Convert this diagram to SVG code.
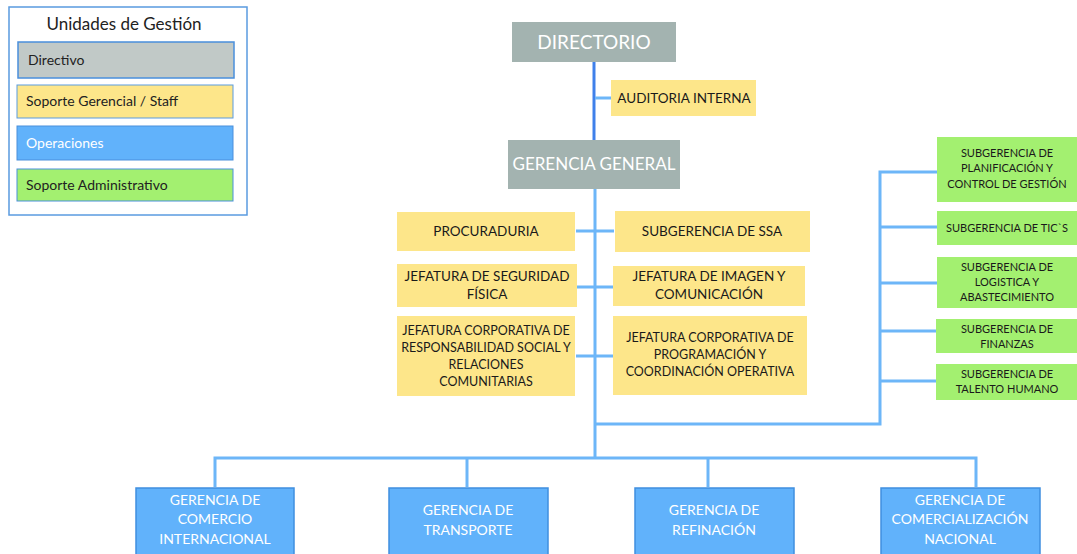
<svg xmlns="http://www.w3.org/2000/svg" width="1077" height="554" viewBox="0 0 1077 554">
<style>
text{font-family:Lato,"Liberation Sans",sans-serif;text-anchor:middle}
.g{fill:#a3b3b0}
.y{fill:#fde68a}
.b{fill:#61b2fb;stroke:#3f8fdf;stroke-width:1.5}
.gr{fill:#a3f070}
.ty{font-size:13.5px;fill:#1a1a1a}
.tg{font-size:11px;fill:#1a1a1a}
.tw{font-size:14px;fill:#fff}
.tt{font-size:19px;fill:#fff}
.ln{stroke:#6db6f8;stroke-width:3;fill:none}
</style>
<g id="legend">
<rect x="9" y="7" width="238" height="208" fill="#fff" stroke="#5a9be0" stroke-width="1.5"/>
<text x="124" y="30" style="font-size:17px;fill:#222">Unidades de Gestión</text>
<rect x="18" y="42" width="216" height="36" fill="#c1c9c7" stroke="#4a8fdc" stroke-width="1.5"/>
<text x="28" y="65" style="font-size:14px;fill:#222;text-anchor:start">Directivo</text>
<rect x="17" y="85" width="216" height="33" fill="#fde68a" stroke="#5a9be0" stroke-width="1"/>
<text x="26" y="106" style="font-size:14px;fill:#222;text-anchor:start">Soporte Gerencial / Staff</text>
<rect x="17" y="126" width="216" height="34" fill="#61b2fb" stroke="#4a8fdc" stroke-width="1"/>
<text x="26" y="148" style="font-size:14px;fill:#fff;text-anchor:start">Operaciones</text>
<rect x="17" y="169" width="216" height="32" fill="#a3f070" stroke="#4a8fdc" stroke-width="1"/>
<text x="26" y="190" style="font-size:14px;fill:#222;text-anchor:start">Soporte Administrativo</text>
</g>
<g id="connectors">
<line x1="594" y1="62" x2="594" y2="140" stroke="#3f80ea" stroke-width="3"/>
<line x1="595" y1="98" x2="611" y2="98" class="ln"/>
<line x1="595" y1="189" x2="595" y2="458" class="ln"/>
<line x1="576" y1="231" x2="614" y2="231" class="ln"/>
<line x1="577" y1="287" x2="613" y2="287" class="ln"/>
<line x1="576" y1="356" x2="613" y2="356" class="ln"/>
<polyline points="595,424 880,424 880,172 937,172" class="ln"/>
<line x1="880" y1="227" x2="937" y2="227" class="ln"/>
<line x1="880" y1="283" x2="937" y2="283" class="ln"/>
<line x1="880" y1="331" x2="937" y2="331" class="ln"/>
<line x1="880" y1="381" x2="937" y2="381" class="ln"/>
<polyline points="215,487 215,458 976,458 976,487" class="ln"/>
<line x1="467" y1="458" x2="467" y2="487" class="ln"/>
<line x1="708" y1="458" x2="708" y2="487" class="ln"/>
</g>
<g id="directorio"><rect x="512" y="22" width="164" height="40" class="g"/><text x="594" y="49" class="tt">DIRECTORIO</text></g>
<g id="auditoria"><rect x="611" y="80" width="145" height="36" class="y"/><text x="684" y="103" class="ty">AUDITORIA INTERNA</text></g>
<g id="gerencia-general"><rect x="508" y="140" width="172" height="49" class="g"/><text x="594" y="170" class="tt" style="font-size:17px">GERENCIA GENERAL</text></g>
<g id="procuraduria"><rect x="397" y="212" width="178" height="39" class="y"/><text x="486" y="236" class="ty">PROCURADURIA</text></g>
<g id="ssa"><rect x="615" y="211" width="195" height="41" class="y"/><text x="712" y="236" class="ty">SUBGERENCIA DE SSA</text></g>
<g id="seguridad"><rect x="397" y="264" width="180" height="43" class="y"/><text x="487" y="281" class="ty">JEFATURA DE SEGURIDAD</text><text x="487" y="299" class="ty">FÍSICA</text></g>
<g id="imagen"><rect x="613" y="266" width="192" height="40" class="y"/><text x="709" y="281" class="ty">JEFATURA DE IMAGEN Y</text><text x="709" y="299" class="ty">COMUNICACIÓN</text></g>
<g id="responsabilidad"><rect x="397" y="316" width="178" height="80" class="y"/><text x="486" y="335" class="ty" style="font-size:12.5px">JEFATURA CORPORATIVA DE</text><text x="486" y="352" class="ty" style="font-size:12.5px">RESPONSABILIDAD SOCIAL Y</text><text x="486" y="369" class="ty" style="font-size:12.5px">RELACIONES</text><text x="486" y="386" class="ty" style="font-size:12.5px">COMUNITARIAS</text></g>
<g id="programacion"><rect x="613" y="316" width="194" height="79" class="y"/><text x="710" y="342" class="ty" style="font-size:12.5px">JEFATURA CORPORATIVA DE</text><text x="710" y="359" class="ty" style="font-size:12.5px">PROGRAMACIÓN Y</text><text x="710" y="376" class="ty" style="font-size:12.5px">COORDINACIÓN OPERATIVA</text></g>
<g id="planificacion"><rect x="937" y="137" width="140" height="65" class="gr"/><text x="1007" y="157" class="tg">SUBGERENCIA DE</text><text x="1007" y="172" class="tg">PLANIFICACIÓN Y</text><text x="1007" y="188" class="tg">CONTROL DE GESTIÓN</text></g>
<g id="tics"><rect x="937" y="211" width="140" height="34" class="gr"/><text x="1007" y="232" class="tg">SUBGERENCIA DE TIC`S</text></g>
<g id="logistica"><rect x="937" y="257" width="140" height="51" class="gr"/><text x="1007" y="271" class="tg">SUBGERENCIA DE</text><text x="1007" y="286" class="tg">LOGISTICA Y</text><text x="1007" y="301" class="tg">ABASTECIMIENTO</text></g>
<g id="finanzas"><rect x="936" y="319" width="141" height="34" class="gr"/><text x="1007" y="333" class="tg">SUBGERENCIA DE</text><text x="1007" y="348" class="tg">FINANZAS</text></g>
<g id="talento"><rect x="936" y="364" width="141" height="36" class="gr"/><text x="1007" y="378" class="tg">SUBGERENCIA DE</text><text x="1007" y="393" class="tg">TALENTO HUMANO</text></g>
<g id="comercio"><rect x="136" y="488" width="158" height="70" class="b"/><text x="215" y="505" class="tw">GERENCIA DE</text><text x="215" y="524" class="tw">COMERCIO</text><text x="215" y="544" class="tw">INTERNACIONAL</text></g>
<g id="transporte"><rect x="389" y="488" width="159" height="70" class="b"/><text x="468" y="515" class="tw">GERENCIA DE</text><text x="468" y="535" class="tw">TRANSPORTE</text></g>
<g id="refinacion"><rect x="635" y="488" width="159" height="70" class="b"/><text x="714" y="515" class="tw">GERENCIA DE</text><text x="714" y="535" class="tw">REFINACIÓN</text></g>
<g id="comercializacion"><rect x="881" y="488" width="159" height="70" class="b"/><text x="960" y="505" class="tw">GERENCIA DE</text><text x="960" y="524" class="tw">COMERCIALIZACIÓN</text><text x="960" y="544" class="tw">NACIONAL</text></g>
</svg>
